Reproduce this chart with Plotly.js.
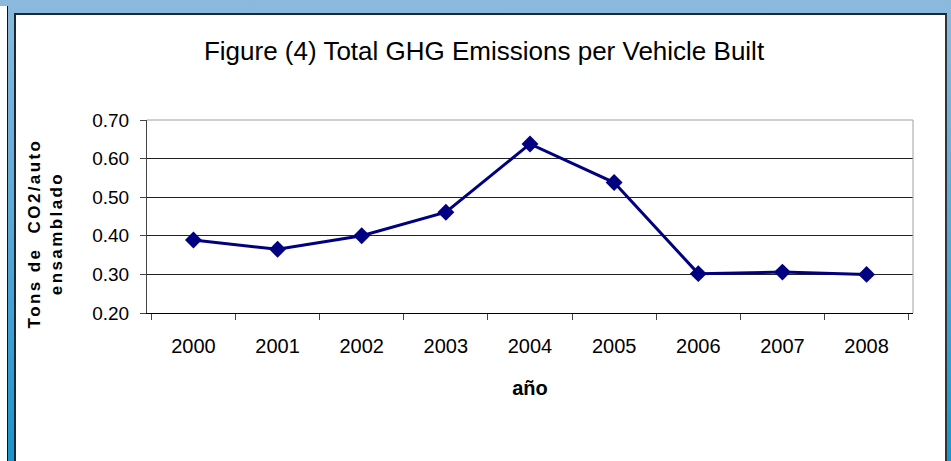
<!DOCTYPE html>
<html>
<head>
<meta charset="utf-8">
<script src="https://cdn.plot.ly/plotly-3.0.1.min.js"></script>
<style>
  html, body { margin: 0; padding: 0; width: 951px; height: 461px; overflow: hidden; }
  body { position: relative; background: linear-gradient(to bottom, #8bbadd 0%, #5aa8d6 50%, #1a94cc 100%); }
  #leftstrip { position: absolute; left: 0; top: 6px; width: 7px; height: 460px; background: #fff; border-right: 1px solid #111; }
  #box { position: absolute; left: 14px; top: 13px; width: 929px; height: 460px; background: #fff;
         border-left: 2px solid #1b2733; border-top: 2px solid #1b2733; border-right: 2px solid #333; }
  #chart { position: absolute; left: 0; top: 0; width: 951px; height: 461px; }
</style>
</head>
<body>
<div id="leftstrip"></div>
<div id="box"></div>
<div id="chart"></div>
<script>
const years = ['2000','2001','2002','2003','2004','2005','2006','2007','2008'];
const emissions = [0.389, 0.365, 0.400, 0.461, 0.638, 0.538, 0.302, 0.306, 0.300];
const yTicks = [0.2, 0.3, 0.4, 0.5, 0.6, 0.7];
const yTickText = ['0.20','0.30','0.40','0.50','0.60','0.70'];
const titleText = 'Figure (4) Total GHG Emissions per Vehicle Built';
const xTitle = 'año';
const yTitle = '<span style="letter-spacing:2.4px">Tons de  CO2/auto</span><br><span style="letter-spacing:2.4px">ensamblado</span>';

const FONT = 'Liberation Sans, Arial, sans-serif';

const trace = {
  x: years, y: emissions, type: 'scatter', mode: 'lines+markers',
  line: { color: '#000080', width: 3 },
  marker: { symbol: 'diamond', size: 13, color: '#000080' },
  hoverinfo: 'x+y'
};

const layout = {
  width: 951, height: 461,
  paper_bgcolor: 'rgba(0,0,0,0)', plot_bgcolor: 'rgba(0,0,0,0)',
  margin: { l: 147, r: 38, t: 120, b: 148, pad: 0 },
  showlegend: false,
  font: { family: FONT, color: '#000' },
  title: { text: titleText, font: { family: FONT, size: 26, color: '#000' },
           xref: 'paper', x: 0.44, xanchor: 'center', yref: 'container', y: 1 - 51/461, yanchor: 'middle' },
  xaxis: {
    type: 'category', tickson: 'boundaries', ticks: 'outside', ticklen: 6, tickcolor: '#444', tickwidth: 1,
    showline: true, linecolor: '#000', linewidth: 1, showgrid: false, zeroline: false,
    tickfont: { family: FONT, size: 20, color: '#000' }, ticklabelstandoff: 15,
    title: { text: xTitle, font: { family: FONT, size: 20, color: '#000', weight: 'bold' }, standoff: 24 }
  },
  yaxis: {
    range: [0.2, 0.7], tickvals: yTicks, ticktext: yTickText, ticks: 'outside', ticklen: 6, tickcolor: '#444',
    showline: true, linecolor: '#444', linewidth: 1, showgrid: true, gridcolor: '#222', gridwidth: 1, zeroline: false,
    tickfont: { family: FONT, size: 19, color: '#000' }, ticklabelstandoff: 7
  },
  shapes: [
    { type: 'line', xref: 'paper', yref: 'paper', x0: 0, x1: 1, y0: 1, y1: 1, line: { color: '#a0a0a0', width: 1 }, layer: 'above' },
    { type: 'line', xref: 'paper', yref: 'paper', x0: 1, x1: 1, y0: 0, y1: 1, line: { color: '#a0a0a0', width: 1 }, layer: 'above' }
  ],
  annotations: [
    { text: yTitle, xref: 'paper', yref: 'paper', x: -0.1325, y: 0.41, xanchor: 'center', yanchor: 'middle',
      textangle: -90, showarrow: false, align: 'center',
      font: { family: FONT, size: 17, color: '#000', weight: 'bold' } }
  ]
};

Plotly.newPlot('chart', [trace], layout, { displayModeBar: false });
</script>
</body>
</html>
